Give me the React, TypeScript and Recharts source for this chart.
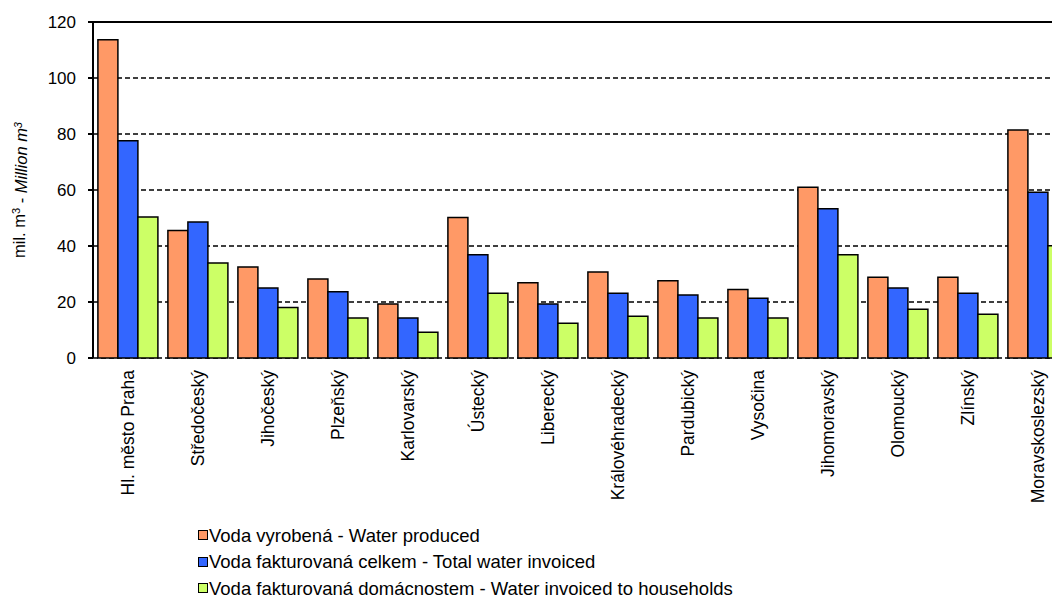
import React from 'react';
import { BarChart, Bar, XAxis, YAxis, CartesianGrid, Legend, ReferenceLine, Label } from 'recharts';

const regions = [
  'Hl. město Praha', 'Středočeský', 'Jihočeský', 'Plzeňský', 'Karlovarský', 'Ústecký', 'Liberecký',
  'Královéhradecký', 'Pardubický', 'Vysočina', 'Jihomoravský', 'Olomoucký', 'Zlínský', 'Moravskoslezský',
];
const waterProduced = [113.7, 45.5, 32.5, 28.2, 19.3, 50.2, 26.9, 30.7, 27.6, 24.5, 61.0, 28.8, 28.8, 81.4];
const waterInvoiced = [77.6, 48.6, 25.0, 23.7, 14.3, 36.9, 19.3, 23.1, 22.5, 21.3, 53.3, 25.0, 23.1, 59.2];
const waterHouseholds = [50.4, 33.9, 18.0, 14.3, 9.2, 23.1, 12.4, 14.9, 14.3, 14.3, 36.9, 17.4, 15.6, 40.1];
const yTicks = [0, 20, 40, 60, 80, 100, 120];
const boundaryTicks = [0, 1, 2, 3, 4, 5, 6, 7, 8, 9, 10, 11, 12, 13, 14];
const seriesNames = [
  'Voda vyrobená - Water produced',
  'Voda fakturovaná celkem - Total water invoiced',
  'Voda fakturovaná domácnostem - Water invoiced to households',
];

const data = regions.map((r, i) => ({
  region: r,
  produced: waterProduced[i],
  invoiced: waterInvoiced[i],
  households: waterHouseholds[i],
}));

const FONT = '"Liberation Sans", Arial, sans-serif';

const CategoryTick = (props: any) => {
  const { x, y, payload } = props;
  return (
    <g transform={`translate(${x},${y})`}>
      <text
        transform="rotate(-90)"
        x={-4}
        y={0}
        dy="0.36em"
        textAnchor="end"
        fontSize={17.5}
        fontFamily={FONT}
        fill="#000"
      >
        {payload.value}
      </text>
    </g>
  );
};

const YLabel = (props: any) => {
  const vb = props.viewBox || {};
  const cx = 11;
  const cy = vb.y + vb.height / 2;
  return (
    <text
      transform={`translate(${cx},${cy}) rotate(-90)`}
      textAnchor="middle"
      dy="0.36em"
      fontSize={16.5}
      fontFamily={FONT}
      fill="#000"
    >
      <tspan>mil. m</tspan>
      <tspan dy="-0.45em" fontSize={11}>3</tspan>
      <tspan dy="0.45em"> - </tspan>
      <tspan fontStyle="italic">Million m</tspan>
      <tspan dy="-0.45em" fontSize={11} fontStyle="italic">3</tspan>
    </text>
  );
};

const LegendContent = (props: any) => {
  const payload = [...(props.payload || [])].sort(
    (a: any, b: any) => seriesNames.indexOf(a.value) - seriesNames.indexOf(b.value)
  );
  return (
    <div style={{ fontFamily: FONT, fontSize: 18.5, lineHeight: '21px', color: '#000' }}>
      {payload.map((p: any, i: number) => (
        <div key={i} style={{ display: 'flex', alignItems: 'center', height: 26.5, whiteSpace: 'nowrap' }}>
          <span
            style={{
              display: 'inline-block',
              width: 8,
              height: 8,
              background: p.color,
              border: '1.5px solid #000',
              marginRight: 1,
            }}
          />
          <span>{p.value}</span>
        </div>
      ))}
    </div>
  );
};

export default function App() {
  return (
    <div style={{ width: 1052, height: 591, overflow: 'hidden', position: 'relative', background: '#fff' }}>
      <BarChart
        width={1065}
        height={591}
        data={data}
        margin={{ top: 14, right: 0, bottom: 0, left: 0 }}
        barCategoryGap="7%"
        barGap={0}
      >
        <CartesianGrid vertical={false} stroke="#000" strokeDasharray="5 3" strokeWidth={1.5} />
        <XAxis
          xAxisId="b"
          type="number"
          domain={[0, 14]}
          ticks={boundaryTicks}
          tick={false}
          tickLine={{ stroke: '#000', strokeWidth: 2 }}
          tickSize={6}
          axisLine={{ stroke: '#000', strokeWidth: 2 }}
          height={0}
          allowDataOverflow
        />
        <XAxis
          dataKey="region"
          interval={0}
          axisLine={false}
          tickLine={false}
          tick={<CategoryTick />}
          height={241}
        />
        <YAxis
          width={85}
          domain={[0, 120]}
          ticks={yTicks}
          interval={0}
          axisLine={{ stroke: '#000', strokeWidth: 2 }}
          tickLine={{ stroke: '#000', strokeWidth: 2 }}
          tickSize={5}
          tickMargin={12}
          tick={{ fontSize: 17, fontFamily: FONT, fill: '#000' }}
        >
          <Label content={<YLabel />} />
        </YAxis>
        <ReferenceLine y={120} stroke="#000" strokeWidth={2} />
        <Legend
          layout="vertical"
          align="center"
          verticalAlign="middle"
          wrapperStyle={{ left: 190, top: 514, width: 800 }}
          content={<LegendContent />}
        />
        <Bar dataKey="produced" name={seriesNames[0]} fill="#FF9966" stroke="#000" strokeWidth={1.5} isAnimationActive={false} />
        <Bar dataKey="invoiced" name={seriesNames[1]} fill="#3366FF" stroke="#000" strokeWidth={1.5} isAnimationActive={false} />
        <Bar dataKey="households" name={seriesNames[2]} fill="#CCFF66" stroke="#000" strokeWidth={1.5} isAnimationActive={false} />
      </BarChart>
    </div>
  );
}
